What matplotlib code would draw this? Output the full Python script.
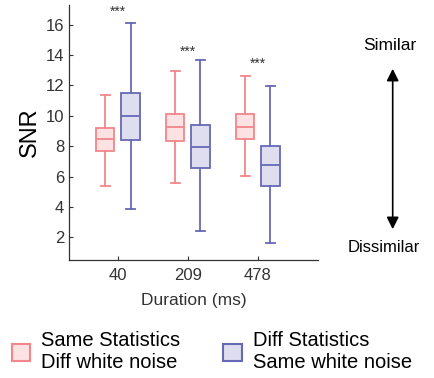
import matplotlib
matplotlib.use("Agg")
import matplotlib.pyplot as plt
from matplotlib.patches import Patch, FancyArrowPatch

plt.rcParams["font.family"] = ["Liberation Sans", "DejaVu Sans"]

# Box summaries: whisker low, q1, median, q3, whisker high
durations = ["40", "209", "478"]
same_stats = [
    [5.39, 7.67, 8.46, 9.21, 11.34],
    [5.56, 8.31, 9.23, 10.13, 12.95],
    [6.02, 8.49, 9.25, 10.13, 12.62],
]
diff_stats = [
    [3.87, 8.42, 10.00, 11.52, 16.11],
    [2.44, 6.57, 7.96, 9.41, 13.67],
    [1.65, 5.39, 6.77, 8.02, 11.96],
]
star_y = [16.85, 14.2, 13.45]
y_ticks = [2, 4, 6, 8, 10, 12, 14, 16]

red_edge, red_fill = "#F2868A", "#FDE2E4"
blue_edge, blue_fill = "#6669B5", "#DEDEF0"


def to_stats(rows):
    return [dict(whislo=r[0], q1=r[1], med=r[2], q3=r[3], whishi=r[4], fliers=[])
            for r in rows]


fig = plt.figure(figsize=(4.35, 3.78), dpi=100)
ax = fig.add_axes([69 / 435, 118 / 378, 249 / 435, 255 / 378])

pos = [1, 2, 3]
off = 0.18
for stats, shift, ec, fc in [(same_stats, -off, red_edge, red_fill),
                             (diff_stats, off, blue_edge, blue_fill)]:
    ax.bxp(to_stats(stats), positions=[p + shift for p in pos], widths=0.26,
           patch_artist=True, showfliers=False,
           boxprops=dict(facecolor=fc, edgecolor=ec, linewidth=1.3),
           medianprops=dict(color=ec, linewidth=1.3),
           whiskerprops=dict(color=ec, linewidth=1.3),
           capprops=dict(color=ec, linewidth=1.3))

for p, y in zip(pos, star_y):
    ax.text(p, y, "***", ha="center", va="center", fontsize=10, color="#333333")

ax.set_xlim(0.3, 3.86)
ax.set_ylim(0.5, 17.3)
ax.set_xticks(pos)
ax.set_xticklabels(durations)
ax.set_yticks(y_ticks)
ax.tick_params(direction="in", length=3, labelsize=12, colors="#333333", width=0.8)
ax.tick_params(axis="x", pad=6)
for s in ["top", "right"]:
    ax.spines[s].set_visible(False)
for s in ["left", "bottom"]:
    ax.spines[s].set_color("#333333")
    ax.spines[s].set_linewidth(0.9)
ax.set_ylabel("SNR", fontsize=17, labelpad=3)
ax.set_xlabel("Duration (ms)", fontsize=12.5, color="#333333", labelpad=7)

# Similar / Dissimilar arrow on the right
fig.text(390 / 435, 1 - 46 / 378, "Similar", ha="center", va="center", fontsize=12.5)
fig.text(384 / 435, 1 - 248 / 378, "Dissimilar", ha="center", va="center", fontsize=12)
fig.patches.append(FancyArrowPatch(
    (392.7 / 435, 1 - 232 / 378), (392.7 / 435, 1 - 66 / 378),
    transform=fig.transFigure, arrowstyle="<|-|>", mutation_scale=18,
    color="black", linewidth=1.2))

handles = [Patch(facecolor=red_fill, edgecolor=red_edge, linewidth=1.5),
           Patch(facecolor=blue_fill, edgecolor=blue_edge, linewidth=1.5)]
labels = ["Same Statistics\nDiff white noise", "Diff Statistics\nSame white noise"]
fig.legend(handles, labels, ncol=2, frameon=False, fontsize=14.5,
           loc="lower left", bbox_to_anchor=(0.004, -0.012),
           handlelength=0.9, handleheight=0.9, handletextpad=0.55,
           columnspacing=2.15, borderaxespad=0.1)

fig.savefig("out.png", dpi=100)
